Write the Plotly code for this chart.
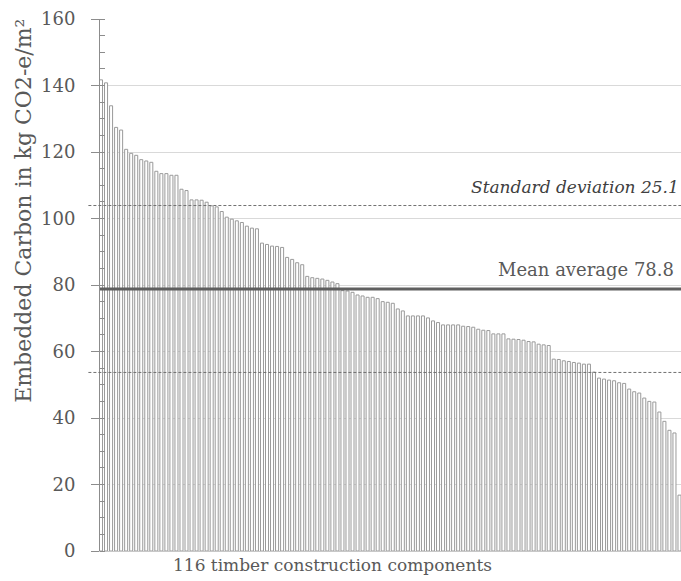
import plotly.graph_objects as go

values = [
    141.7, 140.8, 133.9, 127.4, 126.6, 120.8, 119.6, 119.0, 117.7, 117.3,
    116.9, 114.2, 113.5, 113.5, 113.0, 113.0, 108.8, 108.4, 105.6, 105.6,
    105.5, 104.9, 103.8, 103.5, 102.1, 100.4, 99.8, 99.3, 98.8, 97.7,
    97.1, 96.9, 92.6, 92.2, 91.7, 91.6, 91.3, 88.3, 87.7, 86.7,
    86.1, 82.6, 82.2, 82.0, 81.8, 81.4, 80.9, 80.4, 78.3, 78.2,
    77.8, 77.0, 76.7, 76.3, 76.3, 75.9, 75.0, 74.8, 74.5, 72.8,
    72.2, 70.7, 70.7, 70.7, 70.7, 70.1, 69.2, 68.7, 68.0, 68.0,
    68.0, 68.0, 67.6, 67.5, 67.3, 66.7, 66.4, 66.3, 65.3, 65.3,
    65.3, 63.8, 63.7, 63.6, 63.4, 63.0, 62.9, 62.2, 62.0, 61.8,
    57.7, 57.6, 57.2, 57.0, 56.7, 56.5, 56.2, 56.2, 53.8, 52.0,
    51.7, 51.4, 51.2, 50.6, 50.4, 48.7, 47.9, 47.5, 46.0, 45.0,
    44.8, 41.8, 39.0, 36.3, 35.5, 16.8,
]
components = list(range(1, len(values) + 1))
mean_value = 78.8
std_dev = 25.1
y_ticks = [0, 20, 40, 60, 80, 100, 120, 140, 160]

SERIF = "DejaVu Serif"
TXT = "#595959"

fig = go.Figure()
fig.add_trace(go.Bar(
    x=components, y=values,
    width=0.6,
    marker=dict(color="white", line=dict(color="#9a9a9a", width=1)),
    showlegend=False,
))

fig.add_shape(type="line", xref="paper", yref="y", x0=0, x1=1,
              y0=mean_value, y1=mean_value,
              line=dict(color="#5f5f5f", width=3))
for yv in (mean_value + std_dev, mean_value - std_dev):
    fig.add_shape(type="line", xref="paper", yref="y", x0=-0.02, x1=1,
                  y0=yv, y1=yv,
                  line=dict(color="#707070", width=1, dash="3px,2px"))

fig.add_annotation(text="Mean average 78.8", xref="paper", yref="y",
                   x=0.992, y=mean_value + 2.0, xanchor="right", yanchor="bottom",
                   showarrow=False, font=dict(family=SERIF, size=18, color=TXT))
fig.add_annotation(text="<i>Standard deviation 25.1</i>", xref="paper", yref="y",
                   x=1.0, y=mean_value + std_dev + 2.0, xanchor="right", yanchor="bottom",
                   showarrow=False, font=dict(family=SERIF, size=17, color="#404040"))
fig.add_annotation(text="116 timber construction components", xref="paper", yref="paper",
                   x=0.4, y=-0.004, xanchor="center", yanchor="top",
                   showarrow=False, font=dict(family=SERIF, size=17, color=TXT))
fig.add_annotation(text="Embedded Carbon in kg CO2-e/m²", xref="paper", yref="paper",
                   x=-0.132, y=0.64, xanchor="center", yanchor="middle", textangle=-90,
                   showarrow=False, font=dict(family=SERIF, size=22, color=TXT))

fig.update_layout(
    width=681, height=581,
    margin=dict(l=100, r=0, t=19, b=30),
    paper_bgcolor="white", plot_bgcolor="white",
    bargap=0.4,
    font=dict(family=SERIF),
    xaxis=dict(range=[0.8, 116.3], showticklabels=False, showgrid=False,
               zeroline=False, showline=True, linecolor="#c8c8c8", linewidth=1,
               ticks=""),
    yaxis=dict(range=[0, 160], tickvals=y_ticks, showgrid=True,
               gridcolor="#d9d9d9", gridwidth=1, zeroline=False,
               showline=True, linecolor="#8c8c8c", linewidth=1,
               ticks="outside", ticklen=8, tickcolor="#8c8c8c",
               ticklabelstandoff=12,
               minor=dict(dtick=5, ticks="inside", ticklen=5, tickcolor="#8c8c8c",
                          showgrid=False),
               tickfont=dict(family=SERIF, size=18, color=TXT)),
)

fig.write_html("out.html")
